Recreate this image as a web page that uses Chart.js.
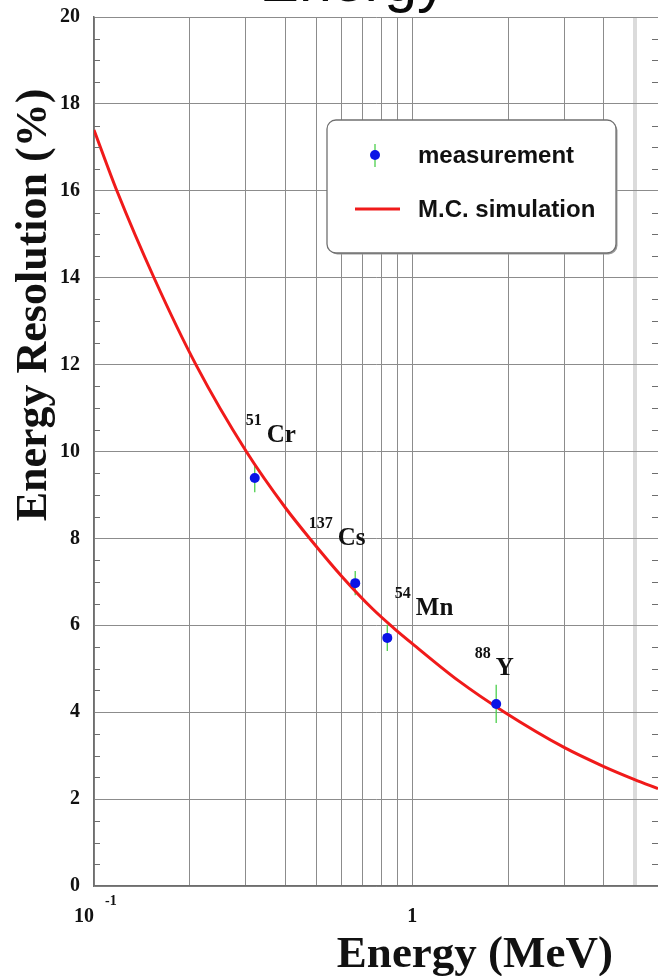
<!DOCTYPE html>
<html>
<head>
<meta charset="utf-8">
<script src="https://cdn.jsdelivr.net/npm/chart.js@4.4.1/dist/chart.umd.min.js"></script>
<style>
  body { margin: 0; background: #fff; }
  canvas { display: block; }
</style>
</head>
<body>
<canvas id="resChart" width="658" height="976"></canvas>
<script>
// calibration sources
const isotopes = ['Cr', 'Cs', 'Mn', 'Y'];
const massNumbers = ['51', '137', '54', '88'];
const measEnergy = [0.320, 0.662, 0.835, 1.836];        // MeV
const measResolution = [9.39, 6.97, 5.71, 4.19];        // %
const measError = [0.33, 0.28, 0.30, 0.44];

// Monte Carlo curve
const simEnergy = [0.1, 0.118, 0.155, 0.209, 0.301, 0.4, 0.48, 0.6, 0.75, 0.88, 1.0, 1.4, 1.95, 3, 4, 5, 5.92];
const simResolution = [17.4, 16.0, 13.97, 12.0, 10.0, 8.7, 7.97, 7.13, 6.38, 5.92, 5.58, 4.72, 4.0, 3.19, 2.75, 2.45, 2.24];

// axes
const xGrid = [0.1, 0.2, 0.3, 0.4, 0.5, 0.6, 0.7, 0.8, 0.9, 1, 2, 3, 4, 5];
const yTicks = [0, 2, 4, 6, 8, 10, 12, 14, 16, 18, 20];

// where the isotope names sit (data units, left/baseline of the mass number)
const isoLabelAt = [
  { x: 0.2996, y: 10.61 },
  { x: 0.473, y: 8.24 },
  { x: 0.882, y: 6.63 },
  { x: 1.573, y: 5.25 }
];

const SERIF = '"Liberation Serif", "Times New Roman", serif';
const SANS = '"Liberation Sans", Arial, sans-serif';
const GRID = '#8c8c8c';
const AXIS = '#6e6e6e';

const decorations = {
  id: 'decorations',
  beforeDatasetsDraw(chart) {
    // green error bars, under the markers
    const { ctx, scales: { x, y } } = chart;
    ctx.save();
    ctx.strokeStyle = '#4ccf4c';
    ctx.lineWidth = 1.3;
    measEnergy.forEach((e, i) => {
      const px = x.getPixelForValue(e);
      ctx.beginPath();
      ctx.moveTo(px, y.getPixelForValue(measResolution[i] - measError[i]));
      ctx.lineTo(px, y.getPixelForValue(measResolution[i] + measError[i]));
      ctx.stroke();
    });
    ctx.restore();
  },
  afterDraw(chart) {
    const { ctx, chartArea: area, scales: { x, y } } = chart;
    ctx.save();

    // minor ticks on both vertical axes
    ctx.strokeStyle = AXIS;
    ctx.lineWidth = 1;
    for (let v = 0.5; v < 20; v += 0.5) {
      if (v % 2 === 0) continue;
      const py = Math.round(y.getPixelForValue(v)) + 0.5;
      ctx.beginPath();
      ctx.moveTo(area.left, py);
      ctx.lineTo(area.left + 6, py);
      ctx.moveTo(area.right, py);
      ctx.lineTo(area.right - 6, py);
      ctx.stroke();
    }

    // y tick labels
    ctx.fillStyle = '#111';
    ctx.font = 'bold 20px ' + SERIF;
    ctx.textAlign = 'right';
    ctx.textBaseline = 'middle';
    yTicks.forEach(v => ctx.fillText(String(v), area.left - 14, y.getPixelForValue(v)));

    // x tick labels: 10^-1 and 1
    const px01 = x.getPixelForValue(0.1);
    ctx.textAlign = 'right';
    ctx.textBaseline = 'alphabetic';
    ctx.fillText('10', px01, 922);
    ctx.font = 'bold 14px ' + SERIF;
    ctx.textAlign = 'left';
    ctx.fillText('-1', px01 + 11, 905);
    ctx.font = 'bold 20px ' + SERIF;
    ctx.textAlign = 'center';
    ctx.fillText('1', x.getPixelForValue(1), 922);

    // axis titles
    ctx.font = 'bold 45px ' + SERIF;
    ctx.textAlign = 'right';
    ctx.fillText('Energy (MeV)', 613, 967);
    ctx.save();
    ctx.translate(46, 305);
    ctx.rotate(-Math.PI / 2);
    ctx.textAlign = 'center';
    ctx.font = 'bold 44px ' + SERIF;
    ctx.fillText('Energy Resolution (%)', 0, 0);
    ctx.restore();

    // title, running off the top edge
    ctx.font = '59px ' + SANS;
    ctx.textAlign = 'center';
    ctx.fillStyle = '#0a0a0a';
    ctx.fillText('Energy', 353, 1);

    // isotope labels
    ctx.fillStyle = '#111';
    isotopes.forEach((name, i) => {
      const lx = x.getPixelForValue(isoLabelAt[i].x);
      const ly = y.getPixelForValue(isoLabelAt[i].y);
      ctx.font = 'bold 16px ' + SERIF;
      ctx.textAlign = 'left';
      ctx.fillText(massNumbers[i], lx, ly);
      const w = ctx.measureText(massNumbers[i]).width;
      ctx.font = 'bold 25px ' + SERIF;
      ctx.fillText(name, lx + w + 5, ly + 17);
    });

    // legend box
    const bx = 327, by = 120, bw = 289, bh = 133;
    ctx.fillStyle = '#9a9a9a';
    ctx.beginPath();
    ctx.roundRect(bx + 1.5, by + 1.5, bw, bh, 9);
    ctx.fill();
    ctx.fillStyle = '#fff';
    ctx.strokeStyle = '#707070';
    ctx.lineWidth = 1.3;
    ctx.beginPath();
    ctx.roundRect(bx, by, bw, bh, 9);
    ctx.fill();
    ctx.stroke();

    const meas = chart.data.datasets[0];
    const sim = chart.data.datasets[1];
    // measurement entry
    ctx.strokeStyle = '#4ccf4c';
    ctx.lineWidth = 1.3;
    ctx.beginPath();
    ctx.moveTo(375, 144);
    ctx.lineTo(375, 167);
    ctx.stroke();
    ctx.fillStyle = meas.backgroundColor;
    ctx.beginPath();
    ctx.arc(375, 155, 5, 0, Math.PI * 2);
    ctx.fill();
    // simulation entry
    ctx.strokeStyle = sim.borderColor;
    ctx.lineWidth = 3;
    ctx.beginPath();
    ctx.moveTo(355, 209);
    ctx.lineTo(400, 209);
    ctx.stroke();

    ctx.fillStyle = '#111';
    ctx.font = 'bold 24px ' + SANS;
    ctx.textAlign = 'left';
    ctx.textBaseline = 'middle';
    ctx.fillText(meas.label, 418, 156);
    ctx.fillText(sim.label, 418, 210);

    ctx.restore();
  }
};

new Chart(document.getElementById('resChart'), {
  type: 'scatter',
  data: {
    datasets: [
      {
        label: 'measurement',
        data: measEnergy.map((e, i) => ({ x: e, y: measResolution[i] })),
        backgroundColor: '#0a14e6',
        borderColor: '#0a14e6',
        pointRadius: 5,
        pointBorderWidth: 0,
        showLine: false
      },
      {
        label: 'M.C. simulation',
        data: simEnergy.map((e, i) => ({ x: e, y: simResolution[i] })),
        borderColor: '#f01a1a',
        backgroundColor: '#f01a1a',
        borderWidth: 3,
        pointRadius: 0,
        showLine: true,
        cubicInterpolationMode: 'monotone'
      }
    ]
  },
  options: {
    responsive: false,
    animation: false,
    events: [],
    layout: { autoPadding: false, padding: { left: 94, right: 0, top: 17, bottom: 90 } },
    plugins: {
      legend: { display: false },
      tooltip: { enabled: false }
    },
    scales: {
      x: {
        type: 'logarithmic',
        min: 0.1,
        max: 5.92,
        afterBuildTicks: scale => { scale.ticks = xGrid.map(v => ({ value: v })); },
        ticks: { display: false },
        grid: {
          drawTicks: false,
          color: c => (c.tick && c.tick.value === 5 ? 'rgba(190,190,190,0.55)' : GRID),
          lineWidth: c => (c.tick && c.tick.value === 5 ? 4 : 1)
        },
        border: { color: AXIS, width: 1.5 }
      },
      y: {
        min: 0,
        max: 20,
        afterBuildTicks: scale => { scale.ticks = yTicks.map(v => ({ value: v })); },
        ticks: { display: false },
        grid: { drawTicks: false, color: GRID, lineWidth: 1 },
        border: { color: AXIS, width: 1.5 }
      }
    }
  },
  plugins: [decorations]
});
</script>
</body>
</html>
